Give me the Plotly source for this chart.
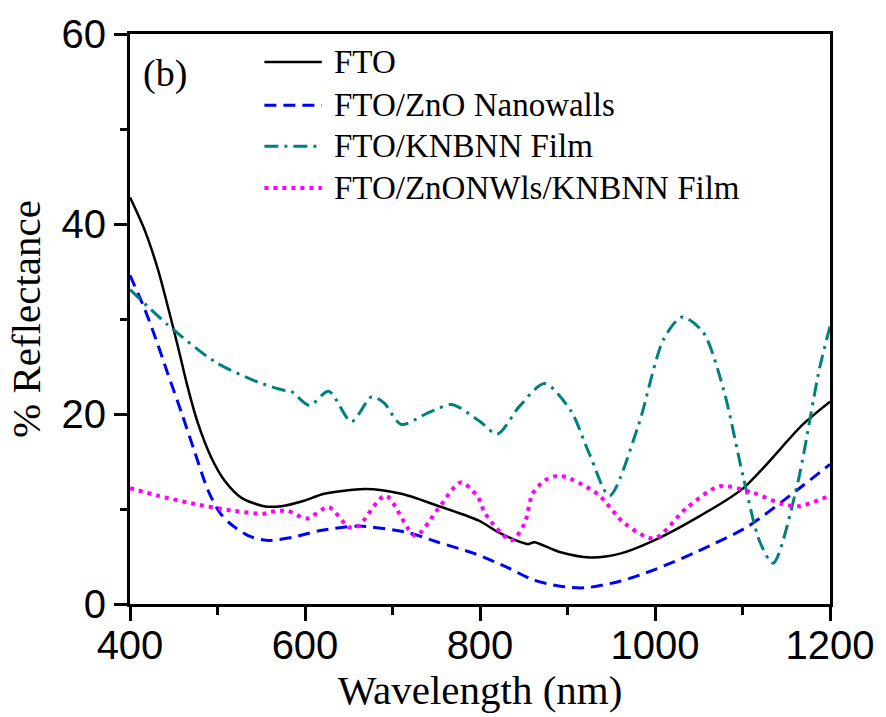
import plotly.graph_objects as go

# ---- data ----
fto_x = [400, 417, 432, 443, 455, 466, 477, 493, 508, 527, 553, 573, 600, 622, 669, 710, 750, 798, 824, 855, 862, 890, 926, 960, 999, 1050, 1101, 1169, 1200]
fto_y = [42.8, 39.3, 35.2, 31.4, 27.0, 22.8, 19.2, 15.4, 13.0, 11.2, 10.3, 10.3, 10.9, 11.6, 12.1, 11.6, 10.4, 8.8, 7.4, 6.3, 6.5, 5.5, 4.9, 5.3, 6.7, 9.2, 12.2, 18.9, 21.3]

zno_x = [400, 417, 428, 443, 459, 474, 489, 502, 514, 535, 556, 585, 616, 661, 718, 752, 794, 830, 862, 890, 919, 960, 999, 1050, 1105, 1161, 1200]
zno_y = [34.6, 31.0, 28.3, 24.3, 20.1, 16.0, 12.0, 9.7, 8.5, 7.2, 6.7, 7.0, 7.7, 8.2, 7.5, 6.5, 5.3, 3.9, 2.5, 1.9, 1.7, 2.4, 3.6, 5.6, 8.1, 11.9, 14.7]

knb_x = [400, 443, 497, 545, 576, 584, 605, 627, 653, 676, 690, 710, 740, 767, 778, 800, 820, 845, 874, 904, 925, 948, 980, 1010, 1031, 1055, 1078, 1101, 1120, 1135, 1161, 1188, 1200]
knb_y = [33.1, 29.4, 25.5, 23.4, 22.5, 22.4, 20.9, 22.4, 19.2, 21.8, 21.2, 18.9, 20.1, 21.0, 20.6, 19.2, 17.9, 20.8, 23.2, 20.3, 15.8, 11.4, 18.5, 27.9, 30.2, 28.6, 22.7, 13.3, 6.5, 4.3, 11.9, 24.8, 29.2]

mix_x = [400, 432, 470, 519, 553, 561, 580, 602, 627, 650, 661, 692, 726, 752, 778, 798, 806, 836, 851, 860, 874, 892, 934, 965, 999, 1036, 1074, 1112, 1146, 1165, 1200]
mix_y = [12.2, 11.4, 10.6, 9.8, 9.5, 9.7, 9.8, 9.0, 10.2, 8.1, 8.2, 11.4, 7.2, 10.0, 12.8, 11.2, 9.5, 6.7, 8.5, 11.6, 13.0, 13.5, 11.6, 8.5, 6.9, 10.1, 12.4, 11.7, 10.5, 10.3, 11.4]

names = ["FTO", "FTO/ZnO Nanowalls", "FTO/KNBNN Film", "FTO/ZnONWls/KNBNN Film"]
colors = ["#000000", "#0000FF", "#008080", "#FF00FF"]
dashes = ["solid", "12px,7px", "14px,6px,3px,6px", "4px,5px"]
widths = [2.5, 3, 3, 4]

x_ticks = [400, 600, 800, 1000, 1200]
y_ticks = [0, 20, 40, 60]

series = [(fto_x, fto_y), (zno_x, zno_y), (knb_x, knb_y), (mix_x, mix_y)]

SANS = "Liberation Sans, Arial, sans-serif"
SERIF = "Liberation Serif, Times New Roman, serif"

fig = go.Figure()
for (xs, ys), n, c, d, w in zip(series, names, colors, dashes, widths):
    fig.add_trace(go.Scatter(x=xs, y=ys, mode="lines", name=n,
                             line=dict(color=c, dash=d, width=w, shape="spline", smoothing=0.8),
                             showlegend=False))

# manual legend (longer line samples like the reference)
leg_y = [0.951, 0.875, 0.803, 0.730]
for n, c, d, w, ly in zip(names, colors, dashes, widths, leg_y):
    fig.add_shape(type="line", xref="paper", yref="paper", x0=0.192, x1=0.274, y0=ly, y1=ly,
                  line=dict(color=c, dash=d, width=w))
    fig.add_annotation(xref="paper", yref="paper", x=0.288, y=ly, text=n, showarrow=False,
                       xanchor="left", yanchor="middle",
                       font=dict(family=SERIF, size=33, color="black"))

fig.add_annotation(xref="paper", yref="paper", x=0.05, y=0.93, text="(b)", showarrow=False,
                   xanchor="center", yanchor="middle",
                   font=dict(family=SERIF, size=38, color="black"))

axis_common = dict(showline=True, linecolor="black", linewidth=3, mirror=True,
                   ticks="outside", tickcolor="black", tickwidth=3,
                   showgrid=False, zeroline=False,
                   tickfont=dict(family=SANS, size=40, color="black"))

fig.update_xaxes(range=[400, 1200], tickvals=x_ticks, ticklen=14, ticklabelstandoff=-10,
                 minor=dict(ticks="outside", ticklen=8, tickwidth=3, tickcolor="black", dtick=100, tick0=400),
                 title=dict(text="Wavelength (nm)", font=dict(family=SERIF, size=41, color="black"), standoff=8),
                 **axis_common)
fig.update_yaxes(range=[0, 60], tickvals=y_ticks, ticklen=13,
                 minor=dict(ticks="outside", ticklen=7, tickwidth=3, tickcolor="black", dtick=10, tick0=0),
                 title=dict(text="% Reflectance", font=dict(family=SERIF, size=41, color="black"), standoff=9),
                 **axis_common)

fig.update_layout(width=886, height=717, margin=dict(l=130, r=52, t=30, b=113),
                  plot_bgcolor="white", paper_bgcolor="white")

fig.write_html("out.html")
